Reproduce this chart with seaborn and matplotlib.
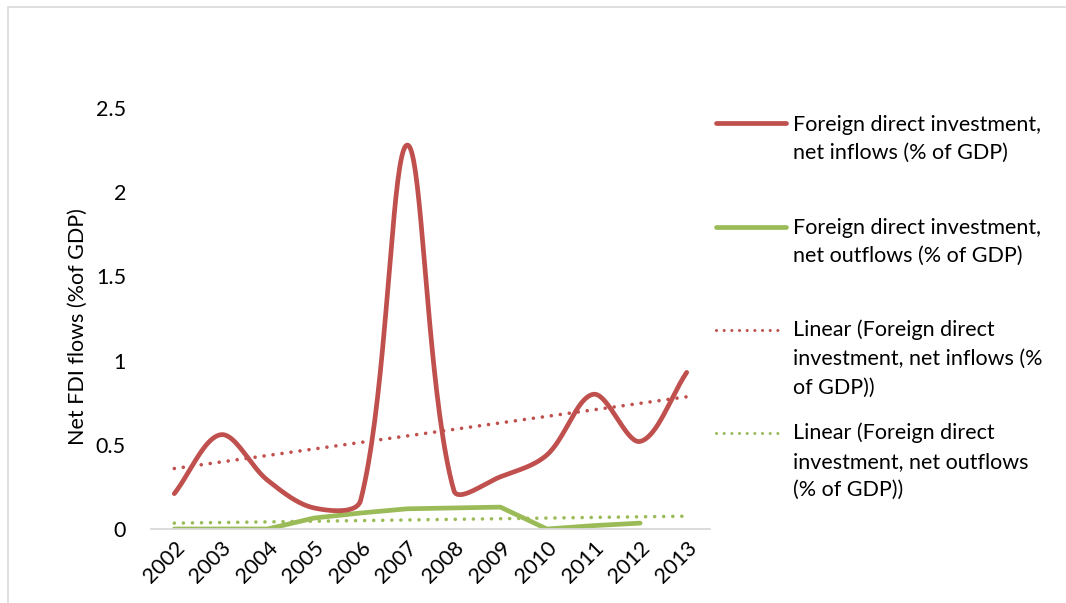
import numpy as np
import pandas as pd
import matplotlib
matplotlib.use("Agg")
import matplotlib.pyplot as plt
import seaborn as sns
from matplotlib.lines import Line2D
from matplotlib.patches import Rectangle

## data
years = ['2002', '2003', '2004', '2005', '2006', '2007',
         '2008', '2009', '2010', '2011', '2012', '2013']
inflows = [0.21, 0.56, 0.29, 0.125, 0.17, 2.28,
           0.23, 0.31, 0.44, 0.80, 0.52, 0.93]
outflows = [0.0, 0.0, 0.0, 0.065, 0.095, 0.12,
            0.125, 0.13, 0.0, 0.02, 0.035]
yticks = [0, 0.5, 1, 1.5, 2, 2.5]
ytick_labels = ['0', '0.5', '1', '1.5', '2', '2.5']
ylabel = 'Net FDI flows (%of GDP)'
legend_labels = [
    ['Foreign direct investment,', 'net inflows (% of GDP)'],
    ['Foreign direct investment,', 'net outflows (% of GDP)'],
    ['Linear (Foreign direct', 'investment, net inflows (%', 'of GDP))'],
    ['Linear (Foreign direct', 'investment, net outflows', '(% of GDP))'],
]

RED = '#C0504D'
GREEN = '#9BBB59'
FONT = 'Lato'
FS = 15.5


def smooth_line(ax, x, y, n=40):
    # excel-like bezier smoothing, done in screen space
    pts = ax.transData.transform(np.column_stack([x, y]))
    k = len(pts)
    out = [pts[0]]
    t = np.linspace(0, 1, n)[1:, None]
    for i in range(k - 1):
        p0 = pts[max(i - 1, 0)]
        p1 = pts[i]
        p2 = pts[i + 1]
        p3 = pts[min(i + 2, k - 1)]
        d01 = np.hypot(*(p1 - p0))
        d12 = np.hypot(*(p2 - p1))
        d23 = np.hypot(*(p3 - p2))
        c1 = p1 + (p2 - p0) * (d12 / (d01 + d12)) / 3
        c2 = p2 - (p3 - p1) * (d12 / (d12 + d23)) / 3
        seg = ((1 - t) ** 3) * p1 + 3 * ((1 - t) ** 2) * t * c1 \
            + 3 * (1 - t) * t ** 2 * c2 + t ** 3 * p2
        out.extend(seg)
    out = ax.transData.inverted().transform(np.array(out))
    return out[:, 0], out[:, 1]


sns.set_theme(style="white")
plt.rcParams['font.family'] = [FONT, 'DejaVu Sans']

W, H = 1066, 603
fig = plt.figure(figsize=(W / 100, H / 100), dpi=100)
ax = fig.add_axes([151 / W, 1 - 529 / H, (710 - 151) / W, (529 - 108) / H])

xi = np.arange(len(years))
ax.set_xlim(-0.5, len(years) - 0.5)
ax.set_ylim(0, 2.5)

# trend lines (ordinary least squares like excel's linear trendline)
b_in = np.polyfit(xi, inflows, 1)
b_out = np.polyfit(np.arange(len(outflows)), outflows, 1)
df_trend = pd.DataFrame({'x': xi,
                         'tin': np.polyval(b_in, xi),
                         'tout': np.polyval(b_out, xi)})
dots = (0, (0.01, 2.5))
sns.lineplot(data=df_trend, x='x', y='tout', ax=ax, color=GREEN,
             lw=2.6, linestyle=dots, dash_capstyle='round')
sns.lineplot(data=df_trend, x='x', y='tin', ax=ax, color=RED,
             lw=2.6, linestyle=dots, dash_capstyle='round')

df_out = pd.DataFrame({'x': np.arange(len(outflows)), 'y': outflows})
sns.lineplot(data=df_out, x='x', y='y', ax=ax, color=GREEN, lw=3.4,
             solid_capstyle='round', solid_joinstyle='round')

sx, sy = smooth_line(ax, xi, inflows)
ax.plot(sx, sy, color=RED, lw=3.4, solid_capstyle='round',
        solid_joinstyle='round', clip_on=False)

# axes styling
sns.despine(ax=ax, left=True, right=True, top=True, bottom=False)
ax.spines['bottom'].set_color('#d9d9d9')
ax.spines['bottom'].set_linewidth(1.3)
ax.set_yticks(yticks)
ax.set_yticklabels(ytick_labels, fontsize=FS, color='black')
ax.set_xticks(xi)
ax.set_xticklabels(years, fontsize=FS, color='black', rotation=45,
                   ha='right', rotation_mode='anchor')
ax.tick_params(axis='y', length=0, pad=18)
ax.tick_params(axis='x', length=0, pad=6)
ax.set_xlabel('')
ax.set_ylabel(ylabel, fontsize=FS, color='black')
ax.yaxis.set_label_coords((88 - 151) / 559, 0.48)
ax.grid(False)

# chart border
fig.patches.append(Rectangle((8 / W, -0.1), 1.2, 1 - 7 / H + 0.1,
                             transform=fig.transFigure, fill=False,
                             ec='#d9d9d9', lw=1.2))

# legend drawn by hand so the keys sit on the first text line
handle_y = [123, 227, 330, 433]
line_ys = [[125, 153], [228, 256], [330, 359, 388], [433, 462, 490]]
styles = [dict(color=RED, lw=3.4, solid_capstyle='round'),
          dict(color=GREEN, lw=3.4, solid_capstyle='round'),
          dict(color=RED, lw=2.2, linestyle=dots, dash_capstyle='round'),
          dict(color=GREEN, lw=2.2, linestyle=dots, dash_capstyle='round')]
for hy, ys, lab, st in zip(handle_y, line_ys, legend_labels, styles):
    x1 = 786 if 'linestyle' not in st else 780
    fig.add_artist(Line2D([716 / W, x1 / W], [1 - hy / H, 1 - hy / H],
                          transform=fig.transFigure, **st))
    for yy, txt in zip(ys, lab):
        fig.text(793 / W, 1 - yy / H, txt, fontsize=FS, va='center',
                 ha='left', color='black')

fig.savefig('out.png', dpi=100)
